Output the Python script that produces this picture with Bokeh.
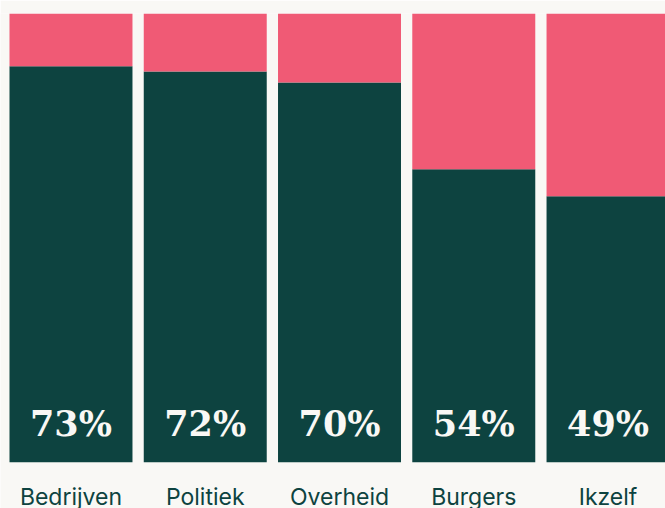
from bokeh.plotting import figure
from bokeh.models import Range1d, ColumnDataSource
from bokeh.core.properties import value
from bokeh.embed import file_html
from bokeh.resources import INLINE

categories = ["Bedrijven", "Politiek", "Overheid", "Burgers", "Ikzelf"]
yes_pct = [73, 72, 70, 54, 49]
no_pct = [100 - v for v in yes_pct]

BG = "#f9f8f5"
DARK = "#0d4340"
PINK = "#f05a75"

xs = list(range(len(categories)))
src = ColumnDataSource(dict(
    x=xs, cat=categories, yes=yes_pct, no=no_pct,
    top=[y + n for y, n in zip(yes_pct, no_pct)],
    label=[f"{v}%" for v in yes_pct],
))

p = figure(width=665, height=508, output_backend="svg", toolbar_location=None,
           x_range=Range1d(-0.525, 4.428), y_range=Range1d(-8.53, 82.7),
           min_border_left=0, min_border_right=0, min_border_top=13,
           min_border_bottom=0)
p.background_fill_color = BG
p.border_fill_color = BG
p.outline_line_color = None
p.grid.visible = False
p.axis.visible = False

p.vbar(x="x", bottom=0, top="yes", width=0.916, source=src,
       fill_color=DARK, line_color=None)
p.vbar(x="x", bottom="yes", top="top", width=0.916, source=src,
       fill_color=PINK, line_color=None)

p.text(x="x", y=0, text="label", source=src, text_align="center",
       text_baseline="alphabetic", y_offset=-39,
       text_font=value("DejaVu Serif"), text_font_style="bold",
       text_font_size="35px", text_color=BG)

p.text(x="x", y=0, text="cat", source=src, text_align="center",
       text_baseline="top", y_offset=21,
       text_font=value("Inter"), text_font_size="23px", text_color=DARK)

open("out.html", "w").write(file_html(p, INLINE))
